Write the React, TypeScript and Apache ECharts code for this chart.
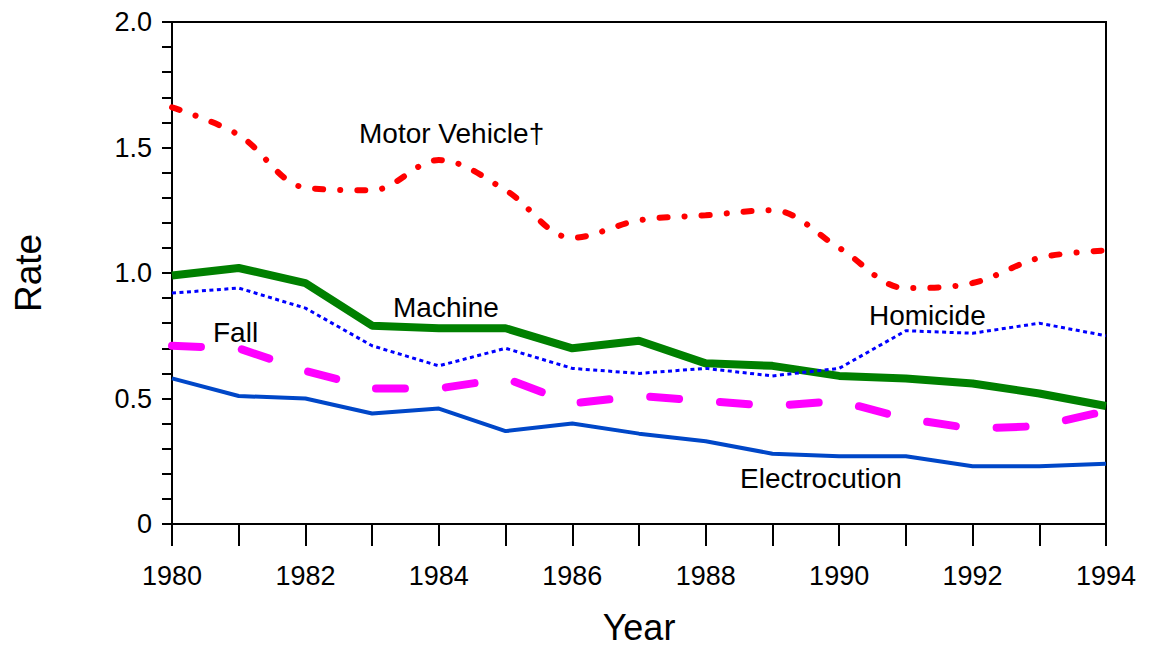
import React, { useEffect, useRef } from "react";
import * as echarts from "echarts";

const years = ["1980", "1981", "1982", "1983", "1984", "1985", "1986", "1987", "1988", "1989", "1990", "1991", "1992", "1993", "1994"];
const motorVehicle = [1.66, 1.55, 1.34, 1.33, 1.45, 1.33, 1.14, 1.21, 1.23, 1.25, 1.1, 0.94, 0.96, 1.06, 1.09];
const machine = [0.99, 1.02, 0.96, 0.79, 0.78, 0.78, 0.7, 0.73, 0.64, 0.63, 0.59, 0.58, 0.56, 0.52, 0.47];
const homicide = [0.92, 0.94, 0.86, 0.71, 0.63, 0.7, 0.62, 0.6, 0.62, 0.59, 0.62, 0.77, 0.76, 0.8, 0.75];
const fall = [0.71, 0.7, 0.61, 0.54, 0.54, 0.58, 0.48, 0.51, 0.49, 0.47, 0.49, 0.42, 0.38, 0.39, 0.45];
const electrocution = [0.58, 0.51, 0.5, 0.44, 0.46, 0.37, 0.4, 0.36, 0.33, 0.28, 0.27, 0.27, 0.23, 0.23, 0.24];
const seriesLabels = ["Motor Vehicle\u2020", "Machine", "Fall", "Homicide", "Electrocution"];

const FONT = "'Liberation Sans', Arial, sans-serif";

export default function App() {
  const ref = useRef<HTMLDivElement>(null);
  useEffect(() => {
    if (!ref.current) return;
    const chart = echarts.init(ref.current, undefined, { renderer: "svg" });
    const labelStyle = (text: string, x: number, y: number) => ({
      type: "text",
      left: x,
      top: y,
      style: { text, fill: "#000", font: `28px ${FONT}` },
    });
    chart.setOption({
      animation: false,
      backgroundColor: "#fff",
      grid: {
        left: 172,
        right: 45,
        top: 22,
        bottom: 125,
        containLabel: false,
        outerBoundsMode: "none",
        show: true,
        borderColor: "#000",
        borderWidth: 2,
        backgroundColor: "transparent",
      },
      xAxis: {
        type: "category",
        data: years,
        boundaryGap: false,
        name: "Year",
        nameLocation: "middle",
        nameGap: 85,
        nameTextStyle: { fontSize: 36, color: "#000", fontFamily: FONT },
        axisLine: { show: true, onZero: false, lineStyle: { color: "#000", width: 2 } },
        axisTick: { show: true, inside: false, interval: 0, length: 22, lineStyle: { color: "#000", width: 2, opacity: 1 } },
        axisLabel: {
          color: "#000",
          fontSize: 27,
          fontFamily: FONT,
          margin: 38,
          interval: 1,
        },
        splitLine: { show: false },
      },
      yAxis: {
        type: "value",
        min: 0,
        max: 2,
        interval: 0.5,
        name: "Rate",
        nameLocation: "middle",
        nameGap: 125,
        nameTextStyle: { fontSize: 37, color: "#000", fontFamily: FONT },
        axisLine: { show: true, lineStyle: { color: "#000", width: 2 } },
        axisTick: { show: true, length: 10, lineStyle: { color: "#000", width: 2 } },
        minorTick: { show: true, splitNumber: 5, length: 10, lineStyle: { color: "#000", width: 2 } },
        axisLabel: {
          color: "#000",
          fontSize: 27,
          fontFamily: FONT,
          margin: 20,
          formatter: (v: number) => (v === 0 ? "0" : v.toFixed(1)),
        },
        splitLine: { show: false },
      },
      series: [
        {
          name: seriesLabels[0],
          type: "line",
          data: motorVehicle,
          smooth: 0.35,
          showSymbol: false,
          lineStyle: { color: "#ff0000", width: 6, type: [8, 17, 0.1, 17], cap: "round" },
        },
        {
          name: seriesLabels[1],
          type: "line",
          data: machine,
          showSymbol: false,
          lineStyle: { color: "#008000", width: 8 },
        },
        {
          name: seriesLabels[3],
          type: "line",
          data: homicide,
          showSymbol: false,
          lineStyle: { color: "#0000ff", width: 3, type: [4, 3.5] },
        },
        {
          name: seriesLabels[2],
          type: "line",
          data: fall,
          showSymbol: false,
          lineStyle: { color: "#ff00ff", width: 8, type: [29, 41], cap: "round" },
        },
        {
          name: seriesLabels[4],
          type: "line",
          data: electrocution,
          showSymbol: false,
          lineStyle: { color: "#0047c8", width: 4 },
        },
      ],
      graphic: [
        labelStyle(seriesLabels[0], 359, 119),
        labelStyle(seriesLabels[1], 393, 293),
        labelStyle(seriesLabels[2], 213, 318),
        labelStyle(seriesLabels[3], 869, 301),
        labelStyle(seriesLabels[4], 740, 464),
      ],
    });
    return () => chart.dispose();
  }, []);
  return <div ref={ref} style={{ width: 1151, height: 649, position: "absolute", left: 0, top: 0 }} />;
}
